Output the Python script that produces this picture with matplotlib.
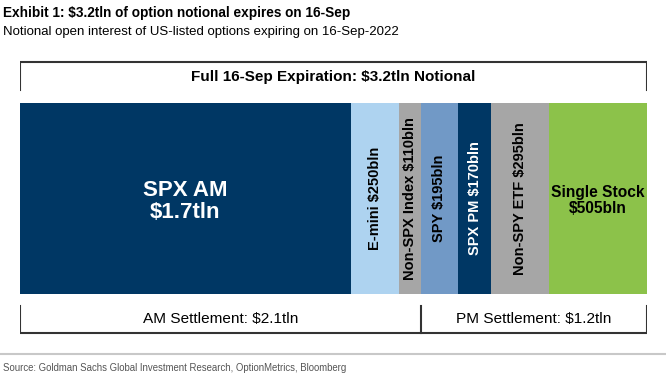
import matplotlib.pyplot as plt

# data (bln)
segments = ['SPX AM', 'E-mini', 'Non-SPX Index', 'SPY', 'SPX PM', 'Non-SPY ETF', 'Single Stock']
values = [1700, 250, 110, 195, 170, 295, 505]
labels = ['SPX AM\n$1.7tln', 'E-mini $250bln', 'Non-SPX Index $110bln', 'SPY $195bln',
          'SPX PM $170bln', 'Non-SPY ETF $295bln', 'Single Stock\n$505bln']
colors = ['#003764', '#aed3f0', '#a6a6a6', '#7199c6', '#003764', '#a6a6a6', '#8cc24a']
text_colors = ['white', 'black', 'black', 'black', 'white', 'black', 'black']
rotated = [False, True, True, True, True, True, False]
am_count = 3  # first three settle AM

SANS = ['Liberation Sans', 'DejaVu Sans']

W, H = 666, 378
fig = plt.figure(figsize=(W / 100, H / 100), dpi=100)
fig.patch.set_facecolor('white')

total = sum(values)
x0, x1 = 20, 647
ax = fig.add_axes([x0 / W, 0, (x1 - x0) / W, 1])
ax.set_xlim(0, total)
ax.set_ylim(H, 0)
ax.axis('off')

bar_top, bar_bot = 103, 294
yc = (bar_top + bar_bot) / 2
left = 0
for v, lab, c, tc, rot in zip(values, labels, colors, text_colors, rotated):
    ax.barh(yc, v, left=left, height=bar_bot - bar_top, color=c, edgecolor='none')
    cx = left + v / 2
    if rot:
        ax.text(cx, yc, lab, rotation=90, ha='center', va='center', color=tc,
                fontsize=10.5, fontweight='bold', family=SANS)
    elif lab.startswith('SPX'):
        ax.text(cx, yc + 3, lab, ha='center', va='center', color=tc, fontsize=16,
                fontweight='bold', family=SANS, linespacing=1.1)
    else:
        ax.text(cx, yc + 2, lab, ha='center', va='center', color=tc, fontsize=11.2,
                fontweight='bold', family=SANS, linespacing=1.05)
    left += v

lc = '#333333'
lw = 1.5
# top bracket
ax.plot([0, 0, total, total], [90, 62, 62, 90], color=lc, lw=lw)
ax.text(total / 2, 77, 'Full 16-Sep Expiration: $3.2tln Notional', ha='center', va='center',
        fontsize=11, fontweight='bold', family=SANS)

# bottom bracket
am_total = sum(values[:am_count])
ax.plot([0, 0, total, total], [306, 333, 333, 306], color=lc, lw=lw)
ax.plot([am_total, am_total], [306, 333], color=lc, lw=lw)
ax.text(am_total / 2, 319, 'AM Settlement: $2.1tln', ha='center', va='center',
        fontsize=11.1, family=SANS)
ax.text((am_total + total) / 2, 319, 'PM Settlement: $1.2tln', ha='center', va='center',
        fontsize=11.1, family=SANS)

# titles
fig.text(3 / W, 1 - 13 / H, 'Exhibit 1: $3.2tln of option notional expires on 16-Sep',
         ha='left', va='center', fontsize=9.8, fontweight='bold', family=SANS)
fig.text(3 / W, 1 - 32 / H, 'Notional open interest of US-listed options expiring on 16-Sep-2022',
         ha='left', va='center', fontsize=9.5, family=SANS)

# separator and source
fig.add_artist(plt.Line2D([0, 1], [1 - 354 / H, 1 - 354 / H], color='#c8c8c8', lw=1.5))
fig.text(3 / W, 1 - 368 / H, 'Source: Goldman Sachs Global Investment Research, OptionMetrics, Bloomberg',
         ha='left', va='center', fontsize=6.9, color='#555555', family=SANS)

fig.savefig('out.png', dpi=100)
